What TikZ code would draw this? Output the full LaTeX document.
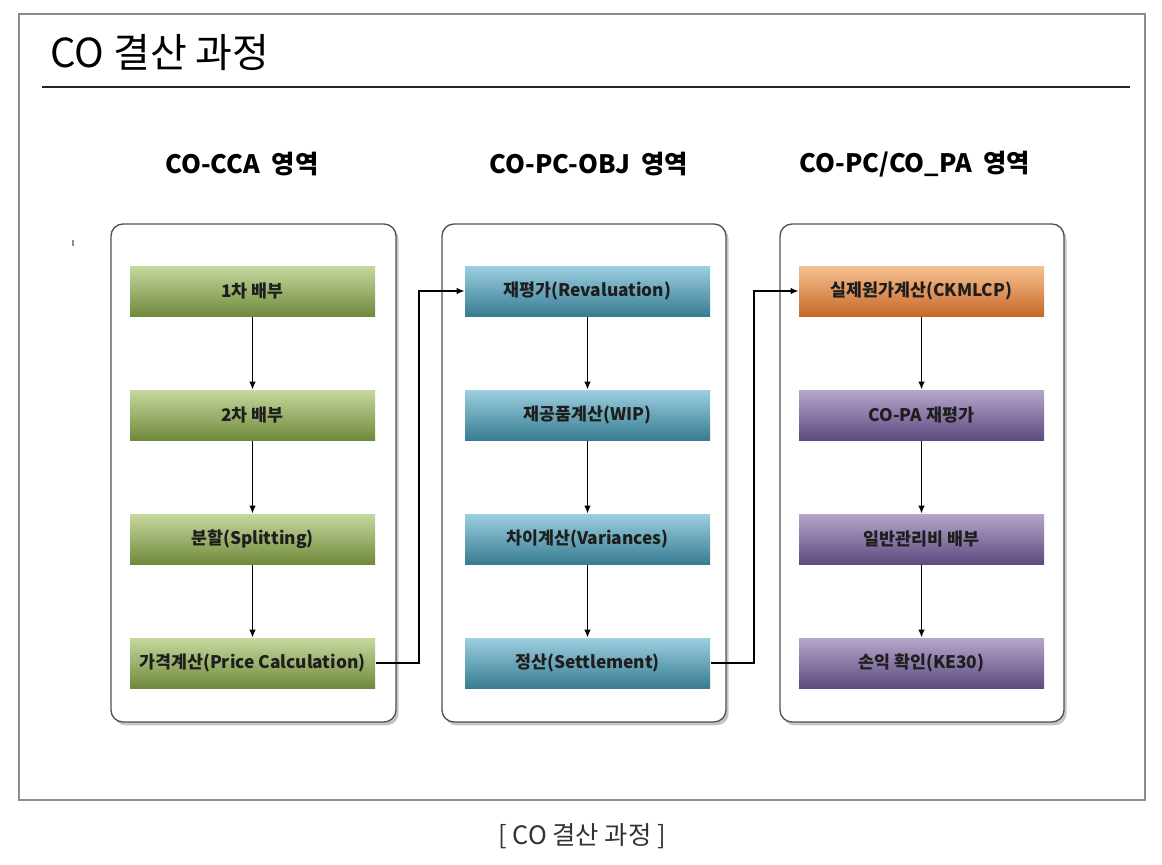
\documentclass[tikz,border=0pt]{standalone}
\usepackage{fontspec}
\setmainfont{Noto Sans CJK KR}
\usetikzlibrary{arrows.meta,shadows}

\definecolor{frameGray}{RGB}{140,140,140}
\definecolor{panelGray}{RGB}{80,80,80}
\definecolor{greenTop}{RGB}{198,216,158}
\definecolor{greenBot}{RGB}{112,138,60}
\definecolor{blueTop}{RGB}{156,207,224}
\definecolor{blueBot}{RGB}{56,124,146}
\definecolor{orangeTop}{RGB}{246,194,146}
\definecolor{orangeBot}{RGB}{200,104,40}
\definecolor{purpleTop}{RGB}{182,166,202}
\definecolor{purpleBot}{RGB}{94,74,128}

\tikzset{every picture/.style={line width=0.75pt}}
\tikzset{
  panel/.style={draw=panelGray, line width=1pt, fill=white, rounded corners=9pt,
    drop shadow={shadow xshift=2pt, shadow yshift=-2.5pt, opacity=0.45}},
  stepbox/.style={minimum width=183.75pt, minimum height=37.5pt, inner sep=0pt,
    font=\bfseries\fontsize{13}{15}\selectfont, text={rgb,255:red,30;green,30;blue,30}},
  greenbox/.style={stepbox, top color=greenTop, bottom color=greenBot},
  bluebox/.style={stepbox, top color=blueTop, bottom color=blueBot},
  orangebox/.style={stepbox, top color=orangeTop, bottom color=orangeBot},
  purplebox/.style={stepbox, top color=purpleTop, bottom color=purpleBot},
  header/.style={font=\bfseries\fontsize{19}{22}\selectfont},
  flow/.style={-{Latex[length=6pt,width=5pt]}, line width=1pt},
}

\begin{document}
\begin{tikzpicture}[x=0.75pt,y=0.75pt,yscale=-1,xscale=1]
\useasboundingbox (0,0) rectangle (1162,864);

% Frame
\draw [frameGray, line width=1pt] (19,14) rectangle (1145,800);
% Title
\node (title) [anchor=west, inner sep=0pt, font=\fontsize{30}{34}\selectfont] at (50,53) {CO 결산 과정};
\draw [line width=1.6pt, black!85] (42,87) -- (1130,87);
% tick mark
\draw [frameGray, line width=0.8pt] (73,240) -- (73,246);

% Headers
\node (hcca) [header] at (242,164) {CO-CCA\ \ 영역};
\node (hobj) [header] at (589,164) {CO-PC-OBJ\ \ 영역};
\node (hpa) [header] at (915,164) {CO-PC/CO\_PA\ \ 영역};

% Panels
\draw [panel] (111,224) rectangle (396,722);
\draw [panel] (442,224) rectangle (726,722);
\draw [panel] (780,224) rectangle (1064,722);

% CO-CCA
\node (cca1) [greenbox] at (252.5,291) {1차 배부};
\node (cca2) [greenbox] at (252.5,415) {2차 배부};
\node (cca3) [greenbox] at (252.5,539) {분할(Splitting)};
\node (cca4) [greenbox] at (252.5,663) {가격계산(Price Calculation)};

% CO-PC-OBJ
\node (obj1) [bluebox] at (587.5,291) {재평가(Revaluation)};
\node (obj2) [bluebox] at (587.5,415) {재공품계산(WIP)};
\node (obj3) [bluebox] at (587.5,539) {차이계산(Variances)};
\node (obj4) [bluebox] at (587.5,663) {정산(Settlement)};

% CO-PC/CO_PA
\node (pa1) [orangebox] at (921.5,291) {실제원가계산(CKMLCP)};
\node (pa2) [purplebox] at (921.5,415) {CO-PA 재평가};
\node (pa3) [purplebox] at (921.5,539) {일반관리비 배부};
\node (pa4) [purplebox] at (921.5,663) {손익 확인(KE30)};

% Flows
\draw [flow] (cca1) -- (cca2);
\draw [flow] (cca2) -- (cca3);
\draw [flow] (cca3) -- (cca4);
\draw [flow] (obj1) -- (obj2);
\draw [flow] (obj2) -- (obj3);
\draw [flow] (obj3) -- (obj4);
\draw [flow] (pa1) -- (pa2);
\draw [flow] (pa2) -- (pa3);
\draw [flow] (pa3) -- (pa4);

\coordinate (j1) at (419,663);
\coordinate (j2) at (754,663);
\draw [flow] (cca4.east) -- (j1) |- (obj1.west);
\draw [flow] (obj4.east) -- (j2) |- (pa1.west);

% Caption
\node (caption) [font=\fontsize{19}{22}\selectfont, text=black!80] at (582,836) {[ CO 결산 과정 ]};
\end{tikzpicture}
\end{document}
